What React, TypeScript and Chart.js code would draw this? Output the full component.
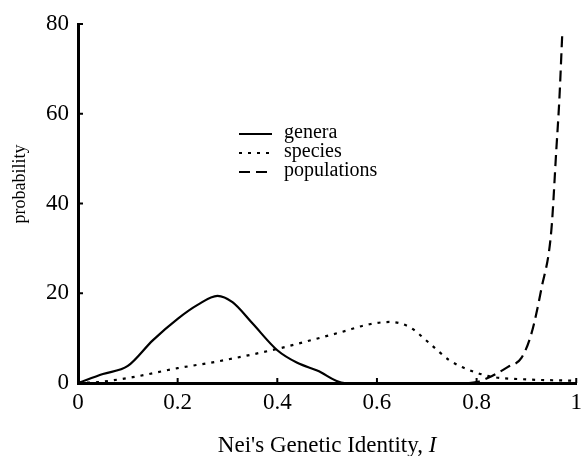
import React, { useEffect, useRef } from "react";
import { Chart, registerables } from "chart.js";

Chart.register(...registerables);

const xTicks = [0, 0.2, 0.4, 0.6, 0.8, 1];
const yTicks = [0, 20, 40, 60, 80];

const generaX = [0, 0.05, 0.1, 0.15, 0.2, 0.24, 0.28, 0.31, 0.35, 0.4, 0.44, 0.48, 0.535, 0.6, 0.8, 1];
const generaY = [0, 2, 3.8, 9.5, 14.3, 17.4, 19.4, 18, 13.3, 7.3, 4.5, 2.8, 0, 0, 0, 0];

const speciesX = [0, 0.04, 0.11, 0.2, 0.28, 0.4, 0.47, 0.53, 0.585, 0.625, 0.665, 0.705, 0.745, 0.785, 0.83, 0.9, 1];
const speciesY = [0, 0.2, 1.3, 3.3, 4.8, 7.6, 9.6, 11.4, 13.1, 13.6, 12.5, 8.9, 5.1, 2.9, 1.4, 0.8, 0.5];

const populationsX = [0, 0.78, 0.8, 0.83, 0.863, 0.89, 0.91, 0.93, 0.95, 0.96, 0.966, 0.972];
const populationsY = [0, 0, 0.2, 1.5, 3.6, 5.6, 11, 21, 34, 52, 63, 78];

const seriesNames = ["genera", "species", "populations"];
const xTitle = "Nei's Genetic Identity, ";
const xTitleItalic = "I";
const yTitle = "probability";

const SERIF = "'Liberation Serif', 'Times New Roman', serif";

const toPoints = (xs: number[], ys: number[]) => xs.map((x, i) => ({ x, y: ys[i] }));

const dashes: number[][] = [[], [3, 6], [11, 6]];

const decorPlugin = {
  id: "decor",
  afterDraw(chart: any) {
    const { ctx, chartArea, scales } = chart;
    const xs = scales.x;
    const ys = scales.y;
    ctx.save();
    ctx.strokeStyle = "#000";
    ctx.lineWidth = 2;
    ctx.setLineDash([]);
    // inward tick marks
    yTicks.forEach((v) => {
      if (v === 0) return;
      const py = ys.getPixelForValue(v);
      ctx.beginPath();
      ctx.moveTo(chartArea.left, py);
      ctx.lineTo(chartArea.left + 5, py);
      ctx.stroke();
    });
    xTicks.forEach((v) => {
      if (v === 0) return;
      const px = xs.getPixelForValue(v);
      ctx.beginPath();
      ctx.moveTo(px, chartArea.bottom);
      ctx.lineTo(px, chartArea.bottom - 5);
      ctx.stroke();
    });

    // legend
    const legX0 = 239;
    const legX1 = 272;
    const legY = [134, 153, 172];
    ctx.font = `20px ${SERIF}`;
    ctx.fillStyle = "#000";
    ctx.textBaseline = "middle";
    ctx.textAlign = "left";
    seriesNames.forEach((name, i) => {
      ctx.beginPath();
      ctx.lineWidth = 2;
      ctx.setLineDash(dashes[i]);
      ctx.moveTo(legX0, legY[i]);
      ctx.lineTo(legX1, legY[i]);
      ctx.stroke();
      ctx.fillText(name, 284, legY[i] - 1);
    });
    ctx.setLineDash([]);

    // x title
    ctx.textBaseline = "alphabetic";
    const normalFont = `23px ${SERIF}`;
    const italicFont = `italic 23px ${SERIF}`;
    ctx.font = normalFont;
    const w1 = ctx.measureText(xTitle).width;
    ctx.font = italicFont;
    const w2 = ctx.measureText(xTitleItalic).width;
    const cx = (chartArea.left + chartArea.right) / 2;
    const startX = cx - (w1 + w2) / 2;
    ctx.font = normalFont;
    ctx.fillText(xTitle, startX, 452);
    ctx.font = italicFont;
    ctx.fillText(xTitleItalic, startX + w1, 452);

    // y title
    ctx.save();
    ctx.translate(20, 184);
    ctx.rotate(-Math.PI / 2);
    ctx.font = `18px ${SERIF}`;
    ctx.textAlign = "center";
    ctx.textBaseline = "middle";
    ctx.fillText(yTitle, 0, 0);
    ctx.restore();

    ctx.restore();
  },
};

export default function App() {
  const ref = useRef<HTMLCanvasElement | null>(null);
  useEffect(() => {
    if (!ref.current) return;
    const mk = (label: string, xs: number[], ys: number[], i: number) => ({
      label,
      data: toPoints(xs, ys),
      borderColor: "#000",
      backgroundColor: "#000",
      borderWidth: 2.2,
      borderDash: dashes[i],
      pointRadius: 0,
      fill: false,
      cubicInterpolationMode: "monotone" as const,
    });
    const chart = new Chart(ref.current, {
      type: "line",
      data: {
        datasets: [
          mk(seriesNames[0], generaX, generaY, 0),
          mk(seriesNames[1], speciesX, speciesY, 1),
          mk(seriesNames[2], populationsX, populationsY, 2),
        ],
      },
      options: {
        animation: false,
        responsive: false,
        layout: { padding: { top: 24, right: 6, left: 0, bottom: 0 } },
        plugins: { legend: { display: false }, tooltip: { enabled: false } },
        scales: {
          x: {
            type: "linear",
            min: 0,
            max: 1,
            afterBuildTicks: (s: any) => {
              s.ticks = xTicks.map((v) => ({ value: v }));
            },
            afterFit: (s: any) => {
              s.height = 73;
            },
            ticks: {
              color: "#000",
              font: { family: SERIF, size: 23 },
              padding: 6,
              maxRotation: 0,
              callback: (v: any) => String(Number(v)),
            },
            grid: { display: false, drawTicks: false },
            border: { display: true, color: "#000", width: 3 },
          },
          y: {
            type: "linear",
            min: 0,
            max: 80,
            afterBuildTicks: (s: any) => {
              s.ticks = yTicks.map((v) => ({ value: v }));
            },
            afterFit: (s: any) => {
              s.width = 78;
            },
            ticks: {
              color: "#000",
              font: { family: SERIF, size: 23 },
              padding: 9,
              callback: (v: any) => String(Number(v)),
            },
            grid: { display: false, drawTicks: false },
            border: { display: true, color: "#000", width: 3 },
          },
        },
      },
      plugins: [decorPlugin],
    });
    return () => chart.destroy();
  }, []);
  return (
    <div style={{ position: "absolute", left: 0, top: 0, width: 588, height: 456, background: "#fff" }}>
      <canvas ref={ref} width={588} height={456} style={{ display: "block" }} />
    </div>
  );
}
